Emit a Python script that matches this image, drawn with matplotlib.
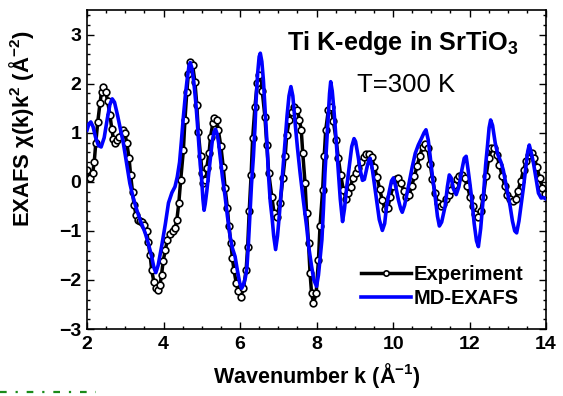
import numpy as np
import matplotlib

matplotlib.use('Agg')
import matplotlib.pyplot as plt
from matplotlib.lines import Line2D

plt.rcParams['font.family'] = ['Liberation Sans', 'DejaVu Sans']
plt.rcParams['font.weight'] = 'bold'
plt.rcParams['axes.labelweight'] = 'bold'
plt.rcParams['mathtext.fontset'] = 'custom'
plt.rcParams['mathtext.rm'] = 'Liberation Sans'
plt.rcParams['mathtext.bf'] = 'Liberation Sans:bold'
plt.rcParams['mathtext.default'] = 'bf'

# experiment
k_exp = [2.00, 2.08, 2.15, 2.19, 2.23, 2.28, 2.34, 2.38, 2.43, 2.49, 2.54, 2.60, 2.65, 2.69,
         2.73, 2.79, 2.84, 2.93, 2.99, 3.04, 3.10, 3.14, 3.19, 3.23, 3.28, 3.34, 3.39, 3.43,
         3.49, 3.56, 3.60, 3.65, 3.69, 3.75, 3.80, 3.86, 3.91, 3.95, 3.99, 4.05, 4.10, 4.17,
         4.24, 4.30, 4.35, 4.40, 4.45, 4.52, 4.56, 4.61, 4.65, 4.69, 4.76, 4.82, 4.87, 4.91,
         4.97, 5.01, 5.04, 5.08, 5.13, 5.19, 5.23, 5.29, 5.33, 5.39, 5.43, 5.50, 5.56, 5.61,
         5.67, 5.71, 5.76, 5.80, 5.84, 5.90, 5.96, 6.02, 6.09, 6.16, 6.20, 6.24, 6.29, 6.33,
         6.39, 6.45, 6.50, 6.58, 6.65, 6.70, 6.75, 6.83, 6.89, 6.96, 7.05, 7.12, 7.18, 7.22,
         7.29, 7.35, 7.42, 7.50, 7.55, 7.60, 7.64, 7.70, 7.74, 7.79, 7.83, 7.87, 7.92, 7.99,
         8.05, 8.09, 8.16, 8.20, 8.24, 8.31, 8.38, 8.44, 8.51, 8.57, 8.63, 8.70, 8.77, 8.83,
         8.89, 8.95, 9.02, 9.09, 9.16, 9.23, 9.30, 9.37, 9.44, 9.51, 9.58, 9.65, 9.72, 9.79,
         9.86, 9.93, 10.00, 10.07, 10.14, 10.21, 10.28, 10.35, 10.42, 10.49, 10.56, 10.63,
         10.70, 10.77, 10.84, 10.91, 10.97, 11.03, 11.10, 11.17, 11.24, 11.31, 11.38, 11.45,
         11.52, 11.59, 11.66, 11.73, 11.80, 11.87, 11.94, 12.01, 12.08, 12.15, 12.22, 12.29,
         12.36, 12.43, 12.50, 12.57, 12.64, 12.71, 12.78, 12.85, 12.92, 12.99, 13.06, 13.13,
         13.20, 13.27, 13.34, 13.41, 13.48, 13.55, 13.62, 13.69, 13.76, 13.83, 13.90, 13.97]
chi_exp = [0.24, 0.07, 0.18, 0.41, 0.79, 1.21, 1.60, 1.84, 1.94, 1.84, 1.64, 1.36, 1.07, 0.87,
           0.80, 0.86, 0.92, 1.06, 0.99, 0.79, 0.48, 0.14, -0.20, -0.47, -0.67, -0.77, -0.79, -0.81,
           -0.88, -1.01, -1.22, -1.49, -1.79, -2.05, -2.17, -2.21, -2.10, -1.89, -1.62, -1.38, -1.18, -1.06,
           -1.01, -0.94, -0.77, -0.43, 0.04, 0.65, 1.26, 1.84, 2.20, 2.45, 2.38, 2.04, 1.57, 1.02,
           0.52, 0.18, -0.03, 0.04, 0.28, 0.58, 0.92, 1.20, 1.30, 1.26, 1.06, 0.72, 0.31, -0.13,
           -0.54, -0.91, -1.25, -1.55, -1.79, -2.06, -2.23, -2.34, -2.17, -1.79, -1.32, -0.60, 0.14, 0.89,
           1.53, 2.01, 2.18, 1.85, 1.33, 0.75, 0.18, -0.30, -0.64, -0.71, -0.43, 0.08, 0.52, 0.96,
           1.26, 1.43, 1.53, 1.47, 1.26, 1.06, 0.58, -0.03, -0.64, -1.25, -1.86, -2.27, -2.47, -2.27,
           -1.59, -0.91, -0.16, 0.52, 1.06, 1.47, 1.53, 1.23, 0.86, 0.48, 0.14, -0.16, -0.35, -0.23,
           -0.10, 0.08, 0.18, 0.29, 0.41, 0.51, 0.56, 0.57, 0.50, 0.30, 0.10, -0.15, -0.38, -0.55,
           -0.53, -0.30, -0.08, 0.06, 0.08, -0.02, -0.18, -0.31, -0.27, -0.08, 0.12, 0.33,
           0.53, 0.71, 0.78, 0.68, 0.36, 0.05, -0.23, -0.44, -0.50, -0.45, -0.35, -0.26,
           -0.17, -0.06, 0.05, 0.12, 0.14, 0.08, -0.08, -0.30, -0.50, -0.66, -0.71, -0.60,
           -0.30, 0.12, 0.48, 0.68, 0.68, 0.55, 0.35, 0.12, -0.08, -0.27, -0.36, -0.40,
           -0.34, -0.18, 0.02, 0.24, 0.42, 0.54, 0.58, 0.48, 0.30, 0.08, -0.12, -0.24]

# MD-EXAFS
k_md = [2.00, 2.05, 2.10, 2.16, 2.22, 2.30, 2.37, 2.45, 2.53, 2.60, 2.66, 2.72, 2.80, 2.88,
        2.95, 3.02, 3.08, 3.12, 3.20, 3.30, 3.40, 3.52, 3.60, 3.69, 3.75, 3.80, 3.86, 3.95,
        4.05, 4.13, 4.22, 4.30, 4.36, 4.42, 4.47, 4.52, 4.57, 4.62, 4.67, 4.70, 4.74, 4.79,
        4.84, 4.88, 4.92, 4.96, 5.00, 5.03, 5.06, 5.09, 5.13, 5.17, 5.22, 5.27, 5.32, 5.36,
        5.40, 5.44, 5.48, 5.54, 5.61, 5.67, 5.74, 5.80, 5.87, 5.93, 5.99, 6.04, 6.09, 6.14,
        6.18, 6.22, 6.26, 6.30, 6.35, 6.39, 6.42, 6.46, 6.50, 6.53, 6.57, 6.61, 6.65, 6.70,
        6.74, 6.79, 6.84, 6.88, 6.93, 6.98, 7.03, 7.08, 7.13, 7.18, 7.23, 7.28, 7.33, 7.38,
        7.44, 7.50, 7.57, 7.65, 7.74, 7.80, 7.87, 7.93, 8.00, 8.05, 8.10, 8.14, 8.18, 8.22,
        8.27, 8.31, 8.34, 8.37, 8.41, 8.45, 8.48, 8.53, 8.57, 8.62, 8.68, 8.73, 8.79, 8.86,
        8.92, 8.98, 9.02, 9.08, 9.14, 9.20, 9.25, 9.32, 9.37, 9.40, 9.45, 9.50, 9.55, 9.60,
        9.64, 9.72, 9.78, 9.83, 9.90, 9.96, 10.01, 10.07, 10.14, 10.20, 10.24, 10.30, 10.40,
        10.50, 10.58, 10.66, 10.74, 10.81, 10.86, 10.92, 10.97, 11.03, 11.10, 11.16, 11.21,
        11.27, 11.36, 11.42, 11.47, 11.52, 11.58, 11.65, 11.72, 11.80, 11.86, 11.91, 11.96,
        12.01, 12.06, 12.12, 12.18, 12.23, 12.29, 12.36, 12.42, 12.47, 12.51, 12.55, 12.60,
        12.67, 12.74, 12.82, 12.88, 12.95, 13.01, 13.06, 13.12, 13.18, 13.23, 13.29, 13.35,
        13.41, 13.47, 13.52, 13.56, 13.61, 13.67, 13.74, 13.80, 13.87, 13.93, 14.00]
chi_md = [1.05, 1.18, 1.22, 1.12, 0.92, 0.74, 0.71, 0.90, 1.28, 1.58, 1.69, 1.62, 1.35, 1.05,
          0.79, 0.45, 0.15, -0.03, -0.30, -0.57, -0.80, -1.04, -1.25, -1.52, -1.75, -1.85, -1.70, -1.32,
          -0.85, -0.43, -0.22, -0.10, 0.10, 0.40, 0.85, 1.33, 1.75, 2.10, 2.38, 2.43, 2.32, 2.05,
          1.65, 1.25, 0.80, 0.35, 0.02, -0.35, -0.58, -0.45, -0.20, 0.08, 0.45, 0.80, 1.02, 1.07,
          0.98, 0.80, 0.52, 0.10, -0.30, -0.70, -1.11, -1.35, -1.52, -1.80, -2.05, -2.17, -2.10, -1.95,
          -1.75, -1.25, -0.64, -0.05, 0.52, 1.10, 1.67, 2.20, 2.55, 2.62, 2.45, 2.08, 1.53, 0.86,
          0.18, -0.40, -0.75, -1.10, -1.38, -1.10, -0.65, -0.15, 0.35, 0.86, 1.35, 1.75, 1.94, 1.75,
          1.20, 0.70, 0.18, -0.35, -0.91, -1.35, -1.72, -2.00, -2.13, -1.90, -1.50, -1.18, -0.55, 0.18,
          0.85, 1.40, 1.80, 2.04, 1.85, 1.50, 1.20, 0.65, 0.18, -0.35, -0.81, -0.55, -0.10, 0.35,
          0.72, 0.88, 0.82, 0.55, 0.25, 0.03, 0.05, 0.30, 0.45, 0.48, 0.30, 0.02, -0.25, -0.55,
          -0.77, -0.99, -0.85, -0.50, -0.20, 0.02, 0.08, -0.10, -0.37, -0.55, -0.62, -0.48, -0.10,
          0.30, 0.58, 0.75, 0.88, 1.00, 1.06, 0.85, 0.52, 0.10, -0.30, -0.70, -0.90,
          -0.82, -0.50, -0.10, 0.14, 0.08, -0.15, -0.26, -0.10, 0.25, 0.48, 0.52, 0.25,
          -0.05, -0.37, -0.85, -1.20, -1.32, -0.95, -0.30, 0.35, 0.75, 1.10, 1.26, 1.15,
          0.79, 0.55, 0.40, 0.24, -0.05, -0.30, -0.50, -0.80, -1.00, -1.04, -0.80, -0.45,
          -0.10, 0.30, 0.62, 0.75, 0.60, 0.38, 0.05, -0.23, -0.33, -0.32, -0.35]

xticks = [2, 4, 6, 8, 10, 12, 14]
yticks = [-3, -2, -1, 0, 1, 2, 3]

fig = plt.figure(figsize=(5.63, 3.96), dpi=100)
ax = fig.add_axes([0.1545, 0.169, 0.8155, 0.8057])

ax.plot(k_exp, chi_exp, color='black', lw=2.5, marker='o', ms=4.8, mfc='white',
        mec='black', mew=1.2, label='Experiment', zorder=2)
ax.plot(k_md, chi_md, color='#0000ff', lw=2.6, label='MD-EXAFS', zorder=3)

ax.set_xlim(2, 14)
ax.set_ylim(-3, 3.5)
ax.set_xticks(xticks)
ax.set_yticks(yticks)
ax.set_xticks(np.arange(2, 14.01, 0.5), minor=True)
ax.set_yticks(np.arange(-3, 3.51, 0.2), minor=True)
ax.tick_params(which='both', direction='in', top=True, right=True, width=1.0)
ax.tick_params(which='major', length=5, labelsize=14)
ax.tick_params(which='minor', length=2.5)
ax.tick_params(axis='x', pad=5)
ax.tick_params(axis='y', pad=4)
for s in ax.spines.values():
    s.set_linewidth(1.2)

ax.set_xlabel('Wavenumber k (Å$^{-1}$)', fontsize=15.5, labelpad=6)
ax.set_ylabel('EXAFS χ(k)k$^{2}$ (Å$^{-2}$)', fontsize=15.8)
ax.yaxis.set_label_coords(-0.112, 0.627)

ax.text(0.436, 0.875, 'Ti K-edge in SrTiO$_{3}$', transform=ax.transAxes, ha='left',
        va='baseline', fontsize=18.2)
ax.text(0.695, 0.743, 'T=300 K', transform=ax.transAxes, ha='center', va='baseline',
        fontsize=18.5, fontweight='normal')

leg = ax.legend(loc='upper left', bbox_to_anchor=(0.597, 0.2), frameon=False,
                fontsize=14.5, handlelength=2.5, handletextpad=0.1, labelspacing=0.25,
                borderpad=0, borderaxespad=0, markerscale=0.8)

# stray green dashes at the bottom left of the original image
fig.add_artist(Line2D([0.0, 0.17], [0.01, 0.01], transform=fig.transFigure,
                      color='#1a8a1a', lw=1.6, ls=(0, (3, 4, 1, 4))))

fig.savefig('out.png', dpi=100)
